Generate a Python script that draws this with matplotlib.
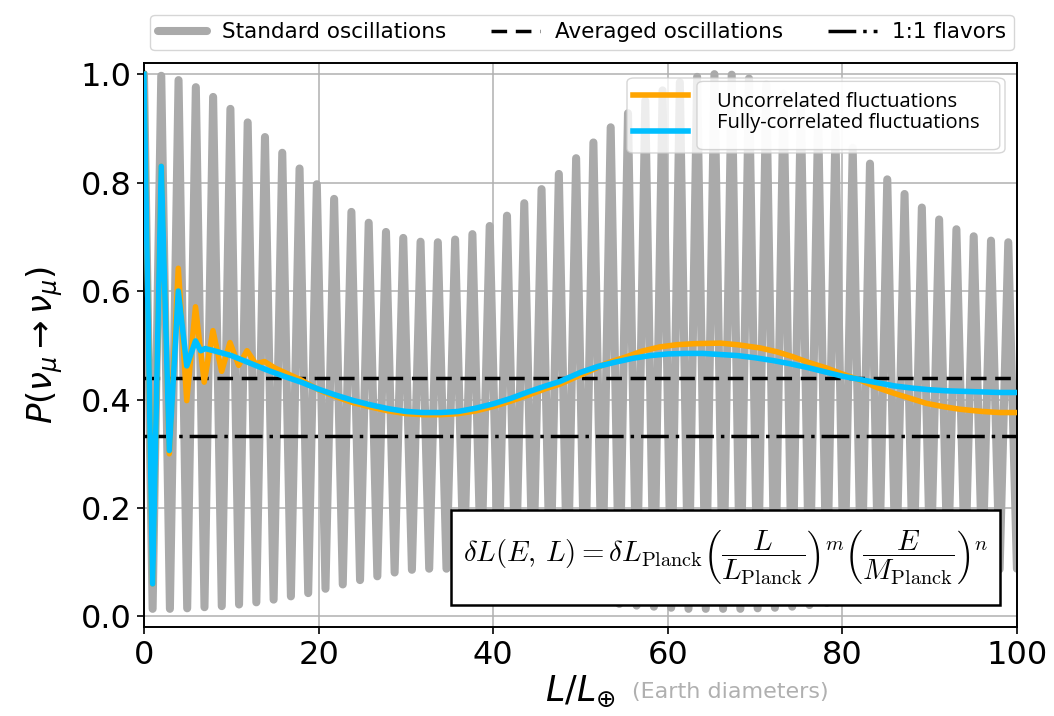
import numpy as np
import matplotlib
matplotlib.use("Agg")
import matplotlib.pyplot as plt
from matplotlib.lines import Line2D
from matplotlib.patches import FancyBboxPatch, Rectangle

# ---- standard three-flavour oscillation: successive extrema (every 0.99 L_earth)
extremum_step = 0.99
standard_peaks = [
    1.000, 0.997, 0.989, 0.976, 0.958, 0.936, 0.911, 0.884, 0.855, 0.826,
    0.797, 0.770, 0.746, 0.726, 0.709, 0.698, 0.691, 0.690, 0.695, 0.705,
    0.720, 0.739, 0.762, 0.788, 0.816, 0.845, 0.874, 0.902, 0.928, 0.951,
    0.970, 0.985, 0.995, 1.000, 0.999, 0.992, 0.981, 0.964, 0.944, 0.920,
    0.893, 0.864, 0.835, 0.806, 0.779, 0.754, 0.732, 0.714, 0.701, 0.693,
    0.690,
]
standard_troughs = [
    0.014, 0.014, 0.015, 0.017, 0.019, 0.022, 0.026, 0.031, 0.037, 0.043,
    0.051, 0.059, 0.067, 0.074, 0.081, 0.086, 0.088, 0.088, 0.083, 0.077,
    0.070, 0.062, 0.054, 0.046, 0.039, 0.033, 0.028, 0.023, 0.020, 0.018,
    0.016, 0.014, 0.014, 0.014, 0.014, 0.015, 0.016, 0.018, 0.021, 0.025,
    0.030, 0.035, 0.041, 0.048, 0.056, 0.064, 0.072, 0.079, 0.084, 0.087,
    0.088,
]

# ---- decoherence from fluctuating path length
uncorr_L = [0.0, 0.99, 1.98, 2.9, 3.93, 4.9, 5.9, 6.9, 7.9, 8.9, 9.85, 10.85,
            11.8, 12.8, 13.8, 15.0, 16.5, 18.0, 20.0, 22.0, 24.0, 26.0, 28.0,
            30.0, 32.0, 34.0, 36.0, 38.0, 40.0, 42.0, 44.0, 46.0, 47.6, 49.0,
            51.4, 53.0, 55.3, 57.0, 59.1, 61.0, 63.0, 66.0, 68.0, 70.6, 72.5,
            74.3, 76.0, 78.2, 80.0, 82.0, 84.0, 85.8, 88.0, 89.6, 91.5, 93.5,
            96.0, 98.0, 100.0]
uncorr_P = [1.0, 0.06, 0.83, 0.30, 0.642, 0.398, 0.571, 0.432, 0.527, 0.452,
            0.505, 0.463, 0.490, 0.466, 0.470, 0.458, 0.447, 0.436, 0.418,
            0.405, 0.394, 0.386, 0.379, 0.374, 0.372, 0.372, 0.374, 0.379,
            0.387, 0.397, 0.408, 0.420, 0.428, 0.438, 0.455, 0.467, 0.479,
            0.489, 0.497, 0.501, 0.503, 0.504, 0.501, 0.495, 0.488, 0.479,
            0.469, 0.458, 0.447, 0.436, 0.422, 0.412, 0.401, 0.393, 0.387,
            0.382, 0.378, 0.376, 0.376]

corr_L = [0.0, 0.99, 1.98, 2.9, 3.93, 4.9, 5.9, 6.5, 7.0, 8.0, 10.0, 12.0,
          14.0, 16.0, 18.0, 20.0, 22.0, 24.0, 26.0, 28.0, 30.0, 32.0, 34.0,
          36.0, 38.0, 40.0, 42.0, 44.0, 46.0, 47.6, 50.0, 52.0, 54.0, 56.0,
          58.0, 60.0, 62.0, 64.0, 66.0, 68.0, 70.0, 72.0, 74.0, 76.0, 78.0,
          80.0, 82.0, 84.0, 86.0, 88.0, 90.0, 92.0, 94.0, 96.0, 98.0, 100.0]
corr_P = [1.0, 0.06, 0.83, 0.306, 0.600, 0.462, 0.508, 0.490, 0.494, 0.490,
          0.481, 0.468, 0.455, 0.443, 0.432, 0.419, 0.408, 0.398, 0.390,
          0.383, 0.378, 0.376, 0.376, 0.378, 0.384, 0.392, 0.402, 0.414,
          0.425, 0.433, 0.450, 0.461, 0.469, 0.476, 0.481, 0.484, 0.485,
          0.485, 0.483, 0.481, 0.477, 0.472, 0.466, 0.459, 0.451, 0.443,
          0.437, 0.431, 0.425, 0.421, 0.418, 0.416, 0.415, 0.414, 0.413,
          0.413]

averaged_level = 0.44
equal_flavour_level = 1.0 / 3.0

x_ticks = [0, 20, 40, 60, 80, 100]
y_ticks = [0.0, 0.2, 0.4, 0.6, 0.8, 1.0]

# interleave peaks and troughs into one alternating sequence
n_ext = len(standard_peaks) + len(standard_troughs)
standard_P = np.empty(n_ext)
standard_P[0::2] = standard_peaks
standard_P[1::2] = standard_troughs
standard_L = np.arange(n_ext) * extremum_step

fig = plt.figure(figsize=(10.54, 7.16), dpi=100)
ax = fig.add_axes([0.1366, 0.1239, 0.8283, 0.7877])

ax.grid(True, color="#b0b0b0", linewidth=1.1, zorder=0)
ax.set_axisbelow(True)

std_line, = ax.plot(standard_L, standard_P, color="#aaaaaa", lw=5.8,
                    solid_joinstyle="round", solid_capstyle="round", zorder=2)
avg_line = ax.axhline(averaged_level, color="black", lw=2.5,
                      ls=(0, (4.5, 2.5)), zorder=3)
flav_line = ax.axhline(equal_flavour_level, color="black", lw=2.5,
                       ls=(0, (8.0, 2.0, 1.0, 2.0)), zorder=3)
unc_line, = ax.plot(uncorr_L, uncorr_P, color="#ffa500", lw=4.0,
                    solid_joinstyle="round", zorder=4)
cor_line, = ax.plot(corr_L, corr_P, color="#00bfff", lw=4.0,
                    solid_joinstyle="round", zorder=5)

ax.set_xlim(0, 100)
ax.set_ylim(-0.02, 1.02)
ax.set_xticks(x_ticks)
ax.set_yticks(y_ticks)
ax.set_xticklabels([str(v) for v in x_ticks])
ax.set_yticklabels([f"{v:.1f}" for v in y_ticks])
ax.tick_params(labelsize=23, length=5, width=1.2, pad=4)
for sp in ax.spines.values():
    sp.set_linewidth(1.4)

ax.set_ylabel(r"$P(\nu_\mu \rightarrow \nu_\mu)$", fontsize=24.5, labelpad=11)
ax.set_xlabel(r"$L/L_⊕$", fontsize=25, labelpad=2)
fig.text(632 / 1054, 1 - 692 / 716, "(Earth diameters)", fontsize=16,
         color="#b0b0b0", va="center", ha="left")


def axfrac(px, py):
    return ((px - 144) / 873, (627.3 - py) / 564)


# formula box
bx0, by0 = axfrac(451, 605)
bx1, by1 = axfrac(1000, 510)
ax.add_patch(Rectangle((bx0, by0), bx1 - bx0, by1 - by0,
                       transform=ax.transAxes, fc="white", ec="black",
                       lw=1.8, zorder=6))
ax.text((bx0 + bx1) / 2, (by0 + by1) / 2,
        r"$\delta L(E,\,L) = \delta L_{\mathrm{Planck}}"
        r"\left(\dfrac{L}{L_{\mathrm{Planck}}}\right)^m"
        r"\left(\dfrac{E}{M_{\mathrm{Planck}}}\right)^n$",
        transform=ax.transAxes, ha="center", va="center", fontsize=20.8,
        math_fontfamily="cm", zorder=6.5)

# inner legend: two stacked translucent boxes, handles and labels
x0, y0 = axfrac(627, 153)
x1, y1 = axfrac(1005, 78)
ax.add_patch(FancyBboxPatch((x0, y0), x1 - x0, y1 - y0,
                            boxstyle="round,pad=0,rounding_size=0.008",
                            transform=ax.transAxes, fc="white", ec="#cccccc",
                            alpha=0.8, lw=1.0, zorder=6))
x0b, _ = axfrac(697, 153)
ax.add_patch(FancyBboxPatch((x0b, y0 + 0.006), x1 - x0b - 0.006,
                            y1 - y0 - 0.012,
                            boxstyle="round,pad=0,rounding_size=0.008",
                            transform=ax.transAxes, fc="white", ec="#cccccc",
                            alpha=0.8, lw=1.0, zorder=6))

leg_handles = ax.legend([unc_line, cor_line], ["", ""],
                        loc="upper left", bbox_to_anchor=axfrac(616, 70),
                        frameon=False, handlelength=2.8, handletextpad=0.0,
                        labelspacing=0.95, borderpad=0.4,
                        prop={"family": "Open Sans", "size": 14})
leg_handles.set_zorder(7)
ax.add_artist(leg_handles)

blank = Line2D([], [], alpha=0)
leg_text = ax.legend([blank, blank],
                     ["Uncorrelated fluctuations",
                      "Fully-correlated fluctuations"],
                     loc="upper left", bbox_to_anchor=axfrac(699, 74),
                     frameon=False, handlelength=0, handletextpad=0,
                     labelspacing=0.05, borderpad=0.4,
                     prop={"family": "Open Sans", "size": 14.5})
leg_text.set_zorder(7)

# top legend
fig.legend([std_line, avg_line, flav_line],
           ["Standard oscillations", "Averaged oscillations", "1:1 flavors"],
           loc="upper center", bbox_to_anchor=(582 / 1054, 1 - 4 / 716),
           ncol=3, fontsize=15.5, handlelength=2.3, handletextpad=0.7,
           columnspacing=2.05, frameon=True, fancybox=True,
           edgecolor="#cccccc", borderpad=0.35)

fig.savefig("out.png", dpi=100)
